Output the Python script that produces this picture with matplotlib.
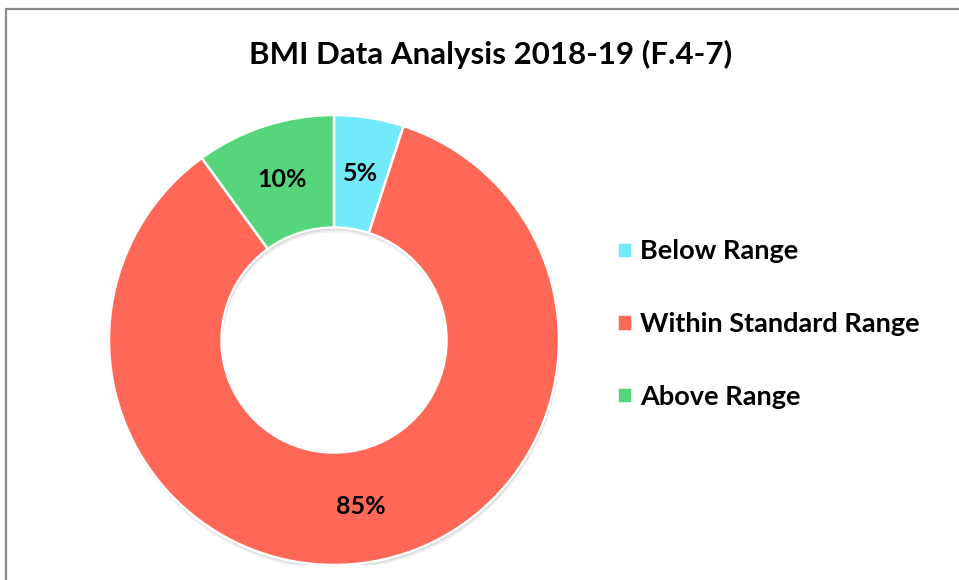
import matplotlib
matplotlib.use("Agg")
import matplotlib.pyplot as plt
from matplotlib.patches import Rectangle, Wedge

categories = ["Below Range", "Within Standard Range", "Above Range"]
values = [5, 85, 10]
colors = ["#72EAFB", "#FF6757", "#55D67D"]
title = "BMI Data Analysis 2018-19 (F.4-7)"

plt.rcParams['font.family'] = ['Lato', 'DejaVu Sans']

W, H = 959, 580
fig = plt.figure(figsize=(W / 100, H / 100), dpi=100)
fig.patch.set_facecolor("white")

# border
fig.add_artist(Rectangle((6 / W, -0.5), 2, 0.5 + 1 - 8.5 / H, transform=fig.transFigure,
                         fill=False, edgecolor="#8a8a8a", linewidth=1.6))

cx, cy, r = 334, 340, 225
ax = fig.add_axes([(cx - r) / W, (H - cy - r) / H, 2 * r / W, 2 * r / H])
# soft shadow
for off, a in [(0.022, 0.12), (0.014, 0.18), (0.007, 0.25)]:
    ax.add_patch(Wedge((0.004, -off), 1.0, 0, 360, width=0.5,
                       facecolor="#9a9a9a", edgecolor="none", alpha=a, zorder=0))
wedges, texts, autotexts = ax.pie(
    values, colors=colors, startangle=90, counterclock=False,
    autopct=lambda p: f"{p:.0f}%", pctdistance=0.75, radius=1,
    wedgeprops=dict(width=0.5, edgecolor="white", linewidth=1.8, zorder=2),
    textprops=dict(fontsize=18, fontweight="bold", color="black"))
for t in autotexts:
    t.set_zorder(3)
ax.set_xlim(-1, 1)
ax.set_ylim(-1, 1)
ax.set_aspect("equal")
ax.axis("off")

fig.text(491 / W, 1 - 54 / H, title, ha="center", va="center",
         fontsize=22.5, fontweight="bold")

leg = fig.legend(wedges, categories, loc="center left",
                 bbox_to_anchor=(593 / W, 1 - 324 / H), frameon=False,
                 prop=dict(size=19.5, weight="bold"), handlelength=0.55,
                 handleheight=0.55, handletextpad=0.3, labelspacing=1.8)

fig.savefig("out.png", dpi=100)
